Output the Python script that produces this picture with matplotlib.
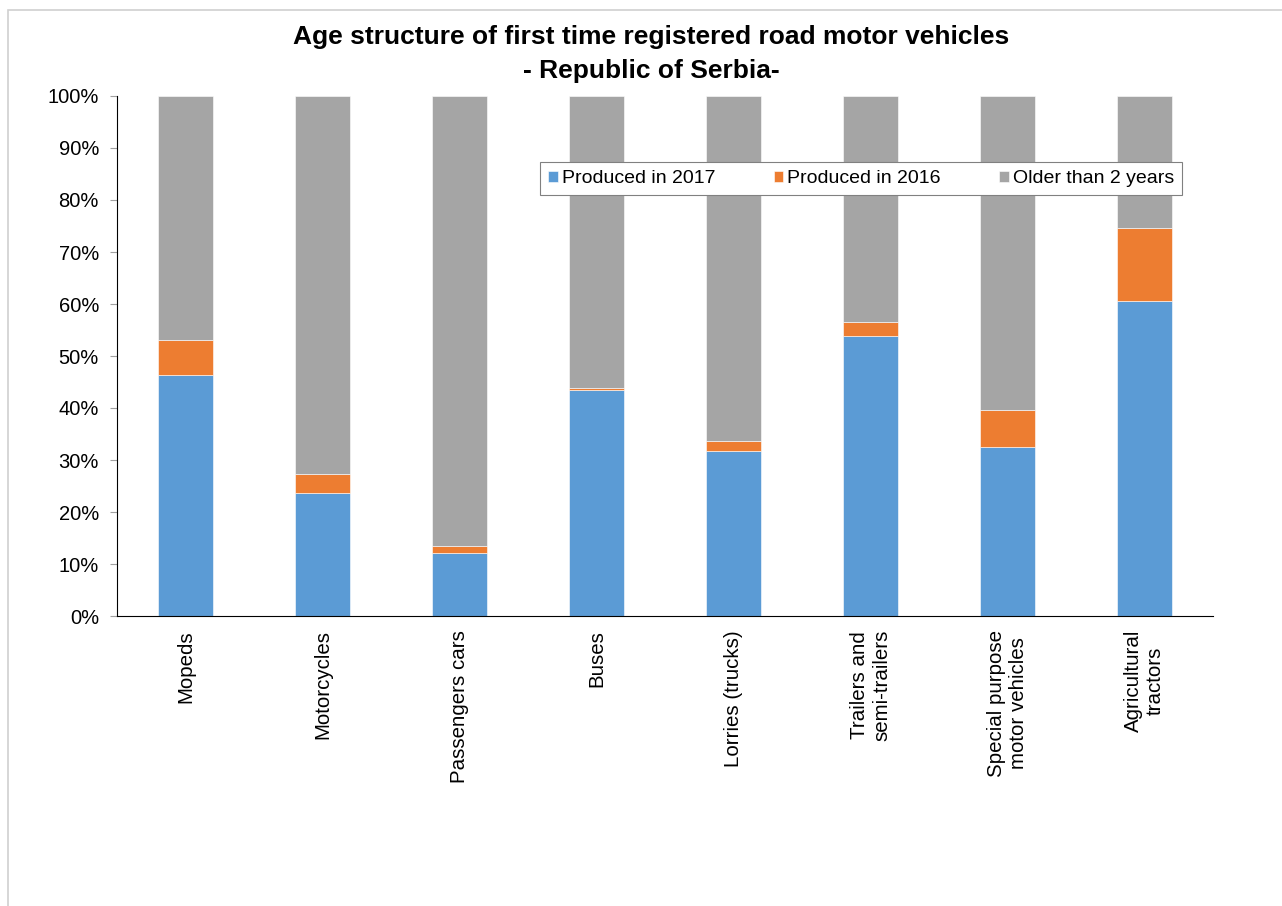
import matplotlib.pyplot as plt
import numpy as np
from matplotlib.patches import Rectangle

categories = ['Mopeds', 'Motorcycles', 'Passengers cars', 'Buses', 'Lorries (trucks)',
              'Trailers and\nsemi-trailers', 'Special purpose\nmotor vehicles', 'Agricultural\ntractors']
produced_2017 = [46.3, 23.6, 12.2, 43.4, 31.7, 53.9, 32.5, 60.5]
produced_2016 = [6.7, 3.8, 1.3, 0.4, 1.9, 2.7, 7.1, 14.2]
older = [100 - a - b for a, b in zip(produced_2017, produced_2016)]

series_names = ['Produced in 2017', 'Produced in 2016', 'Older than 2 years']
colors = ['#5B9BD5', '#ED7D31', '#A5A5A5']

plt.rcParams['font.family'] = ['Liberation Sans', 'DejaVu Sans']

fig = plt.figure(figsize=(12.82, 9.06), dpi=100)
fig.patches.append(Rectangle((8 / 1282, -0.01), 1.02, 1 - 10 / 906 + 0.01, transform=fig.transFigure,
                             fill=False, edgecolor='#D0D0D0', linewidth=1.2))
ax = fig.add_axes([117 / 1282, 290 / 906, 1096 / 1282, 520 / 906])

x = np.arange(len(categories))
w = 0.4
bottom = np.zeros(len(categories))
for vals, name, c in zip([produced_2017, produced_2016, older], series_names, colors):
    ax.bar(x, vals, w, bottom=bottom, color=c, label=name, edgecolor='white', linewidth=0.4)
    bottom += np.array(vals)

ax.set_xlim(-0.5, len(categories) - 0.5)
ax.set_ylim(0, 100)
ax.set_yticks(np.arange(0, 101, 10))
ax.set_yticklabels([f'{v}%' for v in range(0, 101, 10)], fontsize=14.5)
ax.set_xticks(x)
ax.set_xticklabels(categories, rotation=90, fontsize=14.8, ha='center', va='top', multialignment='center')
ax.tick_params(axis='x', length=0, pad=10)
ax.tick_params(axis='y', length=5, color='#A0A0A0', pad=8)
for s in ['top', 'right']:
    ax.spines[s].set_visible(False)
ax.spines['left'].set_color('black')
ax.spines['bottom'].set_color('black')

fig.text(651 / 1282, 1 - 37 / 906, 'Age structure of first time registered road motor vehicles',
         ha='center', va='center', fontsize=19, fontweight='bold')
fig.text(651 / 1282, 1 - 71 / 906, '- Republic of Serbia-',
         ha='center', va='center', fontsize=19, fontweight='bold')

leg = ax.legend(loc='center', bbox_to_anchor=((541 + 1181) / 2 / 1282, 1 - 178.5 / 906),
                bbox_transform=fig.transFigure, ncol=3, fontsize=14, frameon=True, fancybox=False,
                handlelength=0.5, handleheight=0.5, handletextpad=0.2, columnspacing=3.0,
                borderpad=0.4)
leg.get_frame().set_edgecolor('#808080')
leg.get_frame().set_linewidth(0.8)
leg.get_frame().set_alpha(1)

fig.savefig('out.png', dpi=100)
